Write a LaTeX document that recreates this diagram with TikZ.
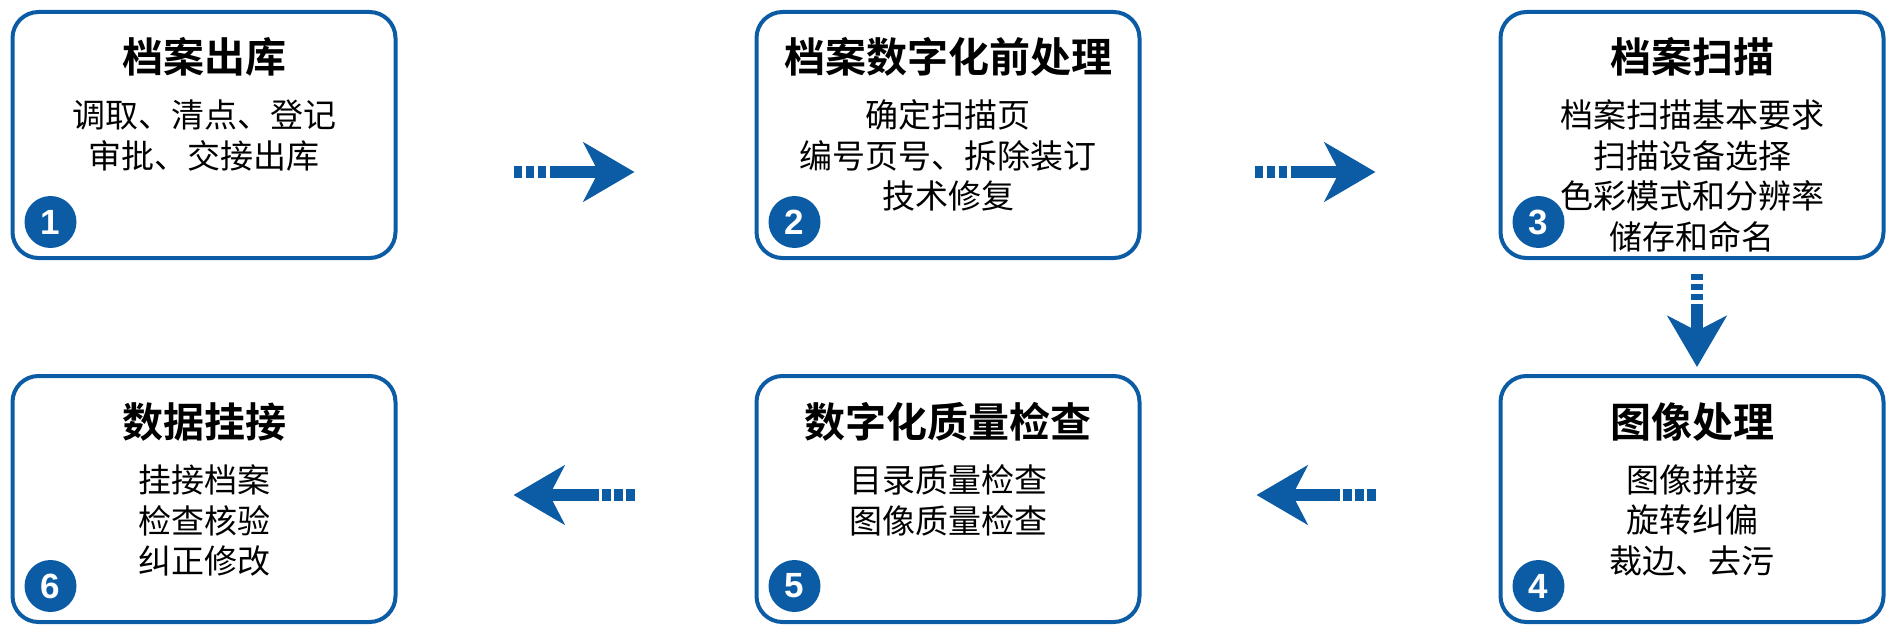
\documentclass[tikz,border=0pt]{standalone}
\usepackage{fontspec}
\newfontfamily\cjk{Noto Sans CJK SC}[BoldFont={Noto Sans CJK SC Bold}]
\newfontfamily\numfont{Liberation Sans}
\usetikzlibrary{arrows.meta, positioning}
\definecolor{flowblue}{HTML}{0B5CA5}

\begin{document}
\begin{tikzpicture}[
            x = 1pt, y = 1pt, % one unit per pixel
            node distance = 23pt, % title to body
            flow/.style = {
                draw = flowblue,
                line width = 12pt,
                dash pattern = on 8.5pt off 3.5pt on 8.5pt off 3.5pt on 8.5pt off 3.5pt on 400pt off 1pt,
                -{Stealth[length=51pt, width=59pt, inset=15pt]}
            },
            flowdown/.style = {
                flow,
                dash pattern = on 6pt off 4pt on 6pt off 4pt on 6pt off 4pt on 400pt off 1pt
            }
        ]

        \tikzstyle{stepbox}=[
            draw = flowblue,
            line width = 4pt,
            rounded corners = 26pt,
            minimum width = 383pt,
            minimum height = 246pt,
            inner sep = 0pt,
            outer sep = 0pt
        ]
        \tikzstyle{steptitle}=[inner sep = 0pt, font = \cjk\bfseries\fontsize{41pt}{48pt}\selectfont]
        \tikzstyle{stepbody}=[inner sep = 0pt, align = center, font = \cjk\fontsize{33pt}{40.5pt}\selectfont]
        \tikzstyle{stepnum}=[circle, fill = flowblue, text = white, minimum size = 52pt, inner sep = 0pt,
            font = \numfont\bfseries\fontsize{35pt}{35pt}\selectfont]

        \useasboundingbox (0,0) rectangle (1895,-634);

        % boxes
        \node[stepbox] (s1) at (204,-135) {};
        \node[stepbox, right=361pt of s1] (s2) {};
        \node[stepbox, right=361pt of s2] (s3) {};
        \node[stepbox, below=118pt of s3] (s4) {};
        \node[stepbox, left=361pt of s4] (s5) {};
        \node[stepbox, left=361pt of s5] (s6) {};

        % titles and texts
        \node[steptitle] (t1) at ([yshift=-45pt]s1.north) {档案出库};
        \node[stepbody, below=of t1] (d1) {调取、清点、登记\\审批、交接出库};
        \node[steptitle] (t2) at ([yshift=-45pt]s2.north) {档案数字化前处理};
        \node[stepbody, below=of t2] (d2) {确定扫描页\\编号页号、拆除装订\\技术修复};
        \node[steptitle] (t3) at ([yshift=-45pt]s3.north) {档案扫描};
        \node[stepbody, below=of t3] (d3) {档案扫描基本要求\\扫描设备选择\\色彩模式和分辨率\\储存和命名};
        \node[steptitle] (t4) at ([yshift=-46pt]s4.north) {图像处理};
        \node[stepbody, below=of t4] (d4) {图像拼接\\旋转纠偏\\裁边、去污};
        \node[steptitle] (t5) at ([yshift=-46pt]s5.north) {数字化质量检查};
        \node[stepbody, below=of t5] (d5) {目录质量检查\\图像质量检查};
        \node[steptitle] (t6) at ([yshift=-46pt]s6.north) {数据挂接};
        \node[stepbody, below=of t6] (d6) {挂接档案\\检查核验\\纠正修改};

        \foreach \i in {1,...,6}
            \node[stepnum] (n\i) at ([shift={(38pt,36pt)}]s\i.south west) {\i};

        % arrows between steps
        \draw[flow, shorten <=118pt, shorten >=122pt] ([yshift=-37pt]s1.east) -- ([yshift=-37pt]s2.west);
        \draw[flow, shorten <=115pt, shorten >=125pt] ([yshift=-37pt]s2.east) -- ([yshift=-37pt]s3.west);
        \draw[flowdown, shorten <=16pt, shorten >=9pt] ([xshift=5pt]s3.south) -- ([xshift=5pt]s4.north);
        \draw[flow, shorten <=125pt, shorten >=117pt] ([yshift=4pt]s4.west) -- ([yshift=4pt]s5.east);
        \draw[flow, shorten <=122pt, shorten >=118pt] ([yshift=4pt]s5.west) -- ([yshift=4pt]s6.east);

    \end{tikzpicture}
\end{document}
